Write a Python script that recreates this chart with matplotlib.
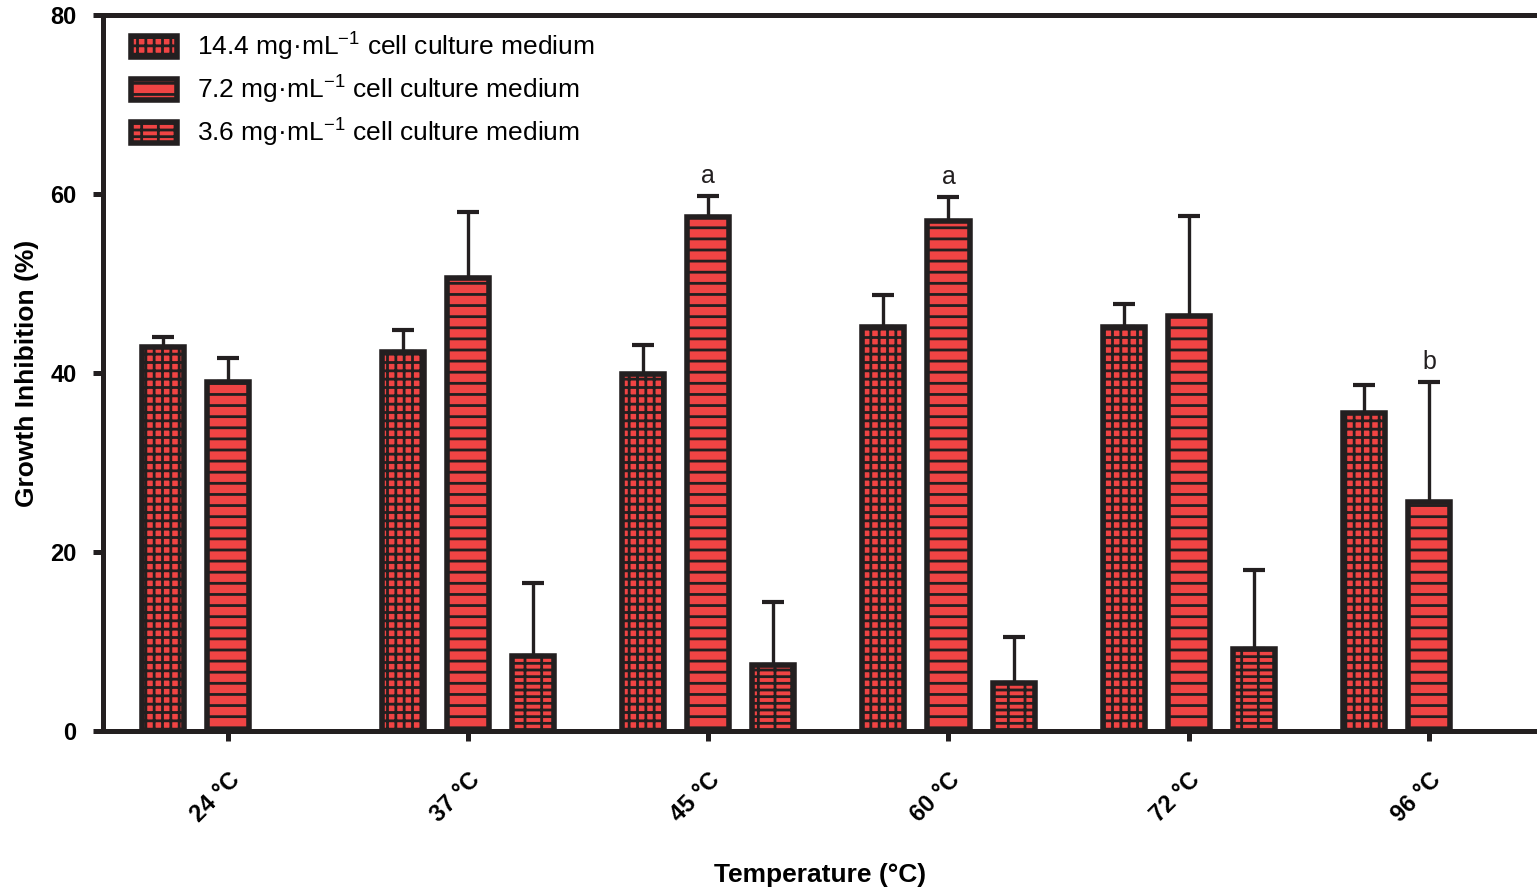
import matplotlib
matplotlib.use('Agg')
import matplotlib.pyplot as plt
import numpy as np

plt.rcParams['font.family'] = ['Liberation Sans', 'DejaVu Sans']
plt.rcParams['mathtext.default'] = 'regular'
plt.rcParams['hatch.linewidth'] = 1.0

# data
temps = ['24 °C', '37 °C', '45 °C', '60 °C', '72 °C', '96 °C']
mean_144 = [42.9, 42.3, 39.9, 45.1, 45.1, 35.5]
sd_144 = [1.1, 2.5, 3.2, 3.6, 2.6, 3.2]
mean_72 = [39.0, 50.6, 57.4, 57.0, 46.4, 25.6]
sd_72 = [2.7, 7.4, 2.4, 2.7, 11.1, 13.4]
mean_36 = [np.nan, 8.4, 7.4, 5.4, 9.2, np.nan]
sd_36 = [np.nan, 8.1, 7.0, 5.1, 8.8, np.nan]
sig_72 = ['', '', 'a', 'a', '', 'b']

labels = ['14.4 mg·mL$^{-1}$ cell culture medium',
          '7.2 mg·mL$^{-1}$ cell culture medium',
          '3.6 mg·mL$^{-1}$ cell culture medium']

red = '#F04444'
edge = '#231F20'

fig = plt.figure(figsize=(7.685, 4.46), dpi=200)
ax = fig.add_axes([0.067, 0.1805, 0.933, 0.8025])

x = np.arange(len(temps))
off = 0.271
w = 0.175

series = [(mean_144, sd_144, '++++', -off),
          (mean_72, sd_72, '---', 0.0),
          (mean_36, sd_36, '-----||', off)]

for (m, s, h, dx), lab in zip(series, labels):
    m = np.array(m)
    s = np.array(s)
    ax.bar(x + dx, m, w, color=red, edgecolor=edge, linewidth=2.0,
           hatch=h, label=lab, zorder=3)
    ax.errorbar(x + dx, m, yerr=[np.zeros_like(s), s], fmt='none',
                ecolor=edge, elinewidth=1.2, capsize=4, capthick=1.5, zorder=2)

# significance letters
for i, t in enumerate(sig_72):
    if t:
        ax.text(x[i], mean_72[i] + sd_72[i] + 0.9, t, ha='center', va='bottom',
                fontsize=9, color=edge)

ax.set_xlim(-0.52, 5.45)
ax.set_ylim(0, 80)
ax.set_yticks([0, 20, 40, 60, 80])
ax.set_xticks(x)
ax.set_xticklabels(temps, rotation=45, ha='right', va='top',
                   rotation_mode='anchor', fontweight='bold', fontsize=8.5)
for t in ax.get_yticklabels():
    t.set_fontweight('bold')
    t.set_fontsize(8.5)

ax.spines['right'].set_visible(False)
for sp in ['left', 'bottom', 'top']:
    ax.spines[sp].set_linewidth(1.8)
    ax.spines[sp].set_color(edge)
ax.tick_params(axis='both', width=1.8, length=3.5, color=edge)
ax.tick_params(axis='x', pad=10)
ax.tick_params(axis='y', pad=6)

ax.set_ylabel('Growth Inhibition (%)', fontweight='bold', fontsize=9.5, labelpad=4)
ax.set_xlabel('Temperature (°C)', fontweight='bold', fontsize=9.5, labelpad=13)

leg = ax.legend(loc='upper left', bbox_to_anchor=(0.012, 0.993), frameon=False,
                fontsize=9.5, handlelength=1.75, handleheight=0.85,
                handletextpad=0.75, labelspacing=0.42, borderaxespad=0.0)

fig.savefig('out.png', dpi=200)
